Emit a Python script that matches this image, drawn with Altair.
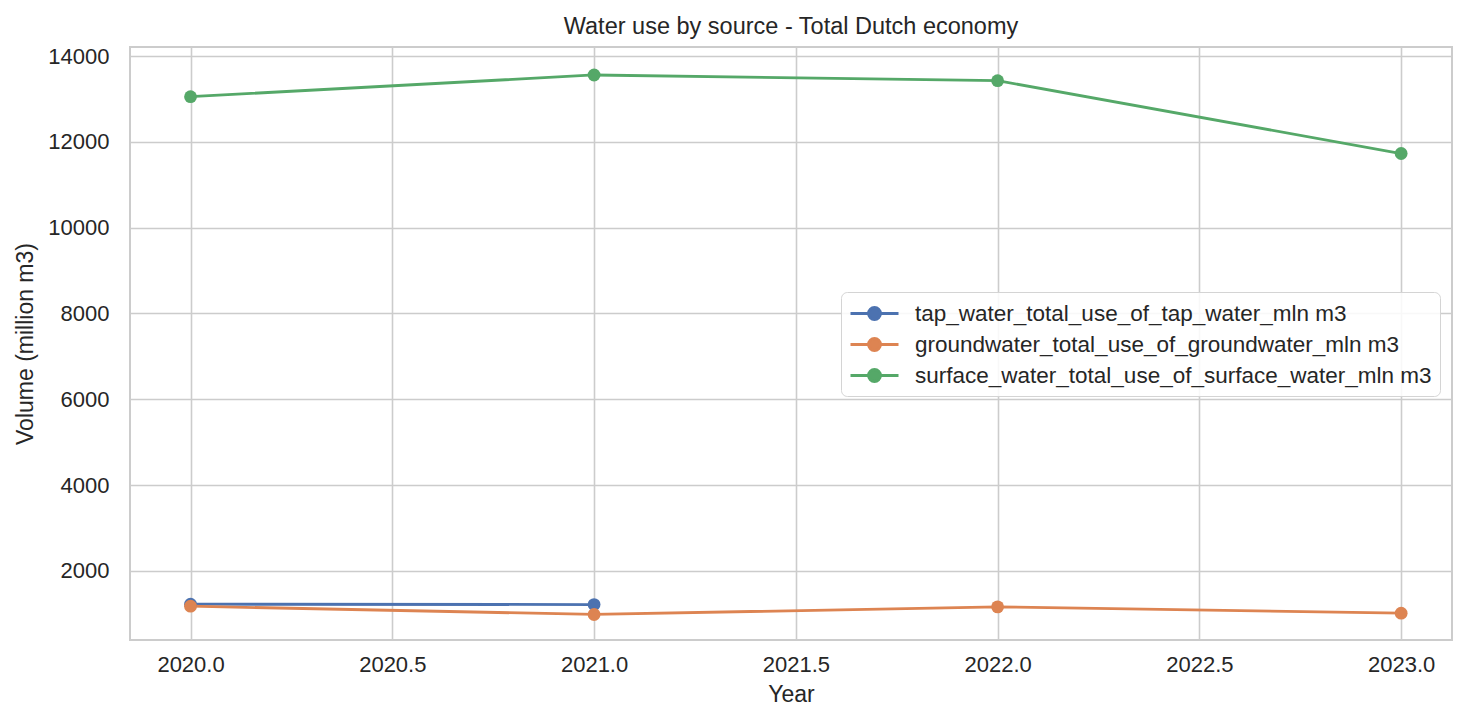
import altair as alt
import pandas as pd

series_names = [
    "tap_water_total_use_of_tap_water_mln m3",
    "groundwater_total_use_of_groundwater_mln m3",
    "surface_water_total_use_of_surface_water_mln m3",
]
colors = ["#4C72B0", "#DD8452", "#55A868"]

tap_years = [2020, 2021]
tap_values = [1225, 1216]
ground_years = [2020, 2021, 2022, 2023]
ground_values = [1178, 985, 1162, 1015]
surface_years = [2020, 2021, 2022, 2023]
surface_values = [13052, 13558, 13425, 11727]

x_ticks = [2020.0, 2020.5, 2021.0, 2021.5, 2022.0, 2022.5, 2023.0]
y_ticks = [2000, 4000, 6000, 8000, 10000, 12000, 14000]

rows = []
for name, ys, vs in zip(series_names,
                        [tap_years, ground_years, surface_years],
                        [tap_values, ground_values, surface_values]):
    for y, v in zip(ys, vs):
        rows.append({"Year": y, "Volume": v, "series": name})
df = pd.DataFrame(rows)

FONT = "Liberation Sans"
TEXT = "#262626"

color = alt.Color(
    "series:N",
    scale=alt.Scale(domain=series_names, range=colors),
    sort=series_names,
    legend=alt.Legend(
        title=None,
        orient="none",
        legendX=711,
        legendY=245,
        symbolType="M -2 0 L 2 0 M 0.5 0 A 0.5 0.5 0 1 1 -0.5 0 A 0.5 0.5 0 1 1 0.5 0 Z",
        symbolSize=576,
        symbolStrokeWidth=2.8,
        symbolOffset=12,
        labelOffset=27,
        labelFontSize=22.5,
        labelFont=FONT,
        labelColor=TEXT,
        rowPadding=5,
        padding=8,
        fillColor="rgba(255,255,255,0.85)",
        strokeColor="#d4d4d4",
        cornerRadius=6,
        labelLimit=800,
    ),
)

x = alt.X(
    "Year:Q",
    title="Year",
    scale=alt.Scale(domain=[2019.85, 2023.126], nice=False, zero=False),
    axis=alt.Axis(values=x_ticks, format=".1f", labelPadding=14, titlePadding=8),
)
y = alt.Y(
    "Volume:Q",
    title="Volume (million m3)",
    scale=alt.Scale(domain=[390, 14210], nice=False, zero=False),
    axis=alt.Axis(values=y_ticks, format="d", labelPadding=21, titlePadding=10),
)

base = alt.Chart(df).encode(x=x, y=y, color=color, order="Year:Q")
lines = base.mark_line(strokeWidth=2.8)
points = base.mark_point(filled=True, size=165, opacity=1, stroke=None)

chart = (
    alt.layer(lines, points)
    .properties(
        width=1322,
        height=593,
        title=alt.TitleParams(
            "Water use by source - Total Dutch economy",
            fontSize=23.5,
            font=FONT,
            color=TEXT,
            fontWeight="normal",
            offset=7,
        ),
        padding={"left": 6, "top": 6, "right": 5, "bottom": 5},
    )
    .configure_view(stroke="#cccccc", strokeWidth=2)
    .configure_axis(
        grid=True,
        gridColor="#cccccc",
        gridWidth=1.6,
        domain=False,
        ticks=False,
        labelFont=FONT,
        labelFontSize=22,
        labelColor=TEXT,
        titleFont=FONT,
        titleFontSize=23,
        titleFontWeight="normal",
        titleColor=TEXT,
    )
)

chart.save("out.html", embed_options={"renderer": "svg", "actions": False})
